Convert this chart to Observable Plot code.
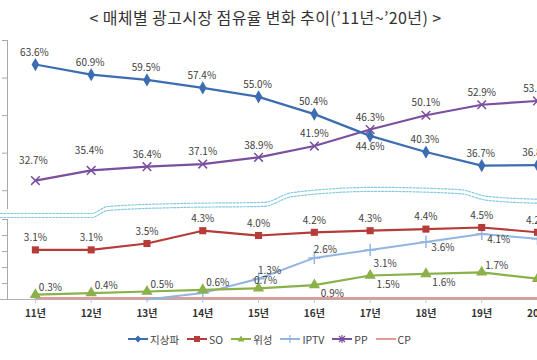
<!DOCTYPE html>
<html><head><meta charset="utf-8">
<script src="https://cdn.jsdelivr.net/npm/d3@7"></script>
<script src="https://cdn.jsdelivr.net/npm/@observablehq/plot@0.6"></script>
<style>
html,body{margin:0;padding:0;background:#fff;overflow:hidden;width:537px;height:360px;}
#title{height:34px;line-height:34px;text-align:center;font-size:16px;letter-spacing:0.4px;font-family:"Noto Sans CJK KR",sans-serif;color:#333;padding-right:6px;white-space:nowrap}
#chart{height:292px}
#chart svg{display:block}
#legend{display:flex;justify-content:center;align-items:center;height:26px;font-size:10.5px;font-family:"Noto Sans CJK KR",sans-serif;color:#444;padding-left:10px}
.item{display:flex;align-items:center;margin-right:8px}
.item svg{margin-right:2px}
</style></head><body>
<div id="title">&lt; 매체별 광고시장 점유율 변화 추이(’11년~’20년) &gt;</div>
<div id="chart"></div>
<div id="legend"></div>
<script>
// ---- data ----
const years = [11, 12, 13, 14, 15, 16, 17, 18, 19, 20];
const yearLabels = ["11년", "12년", "13년", "14년", "15년", "16년", "17년", "18년", "19년", "20년"];
const terrestrial = [63.6, 60.9, 59.5, 57.4, 55.0, 50.4, 44.6, 40.3, 36.7, 36.8];
const so = [3.1, 3.1, 3.5, 4.3, 4.0, 4.2, 4.3, 4.4, 4.5, 4.2];
const satellite = [0.3, 0.4, 0.5, 0.6, 0.7, 0.9, 1.5, 1.6, 1.7, 1.3];
const iptv = [null, null, 0.0, 0.4, 1.3, 2.6, 3.1, 3.6, 4.1, 3.8];
const pp = [32.7, 35.4, 36.4, 37.1, 38.9, 41.9, 46.3, 50.1, 52.9, 53.9];
const cp = [0.1, 0.1, 0.1, 0.1, 0.1, 0.1, 0.1, 0.1, 0.1, 0.1];
const seriesNames = ["지상파", "SO", "위성", "IPTV", "PP", "CP"];
const seriesColors = ["#3c6db0", "#b53c38", "#8ab14a", "#93b5e1", "#7a4f9f", "#e59a9a"];
// axis-break wave (year, value on the broken y scale)
const breakWaveX = [10.37, 12.0, 12.3, 13.6, 15.1, 15.6, 17.1, 18.6, 19.1, 20.1];
const breakWaveY = [17, 17, 25.8, 26.6, 26.9, 29.5, 30.9, 30.3, 28.5, 27.7];
const upperTicks = [30, 40, 50, 60, 70];
const lowerTicks = [0, 1, 2, 3, 4, 5];
const breakFrom = 5, breakTo = 25;

// broken-axis transform: lower panel 0–5, short gap, upper panel 25–70
const LOW = 16, GAP = 0.5, HIGH = 3.756;
const broken = v => v <= breakFrom ? v * LOW
  : v <= breakTo ? breakFrom * LOW + (v - breakFrom) * GAP
  : breakFrom * LOW + (breakTo - breakFrom) * GAP + (v - breakTo) * HIGH;

const FONT = "'Noto Sans CJK KR', sans-serif";
const rows = (vals, name) => years.map((y, i) => ({year: y, value: vals[i], series: name})).filter(d => d.value != null);
const T = rows(terrestrial, "지상파"), S = rows(so, "SO"), W = rows(satellite, "위성"),
      I = rows(iptv, "IPTV"), P = rows(pp, "PP"), C = rows(cp, "CP");
const wave = breakWaveX.map((x, i) => ({x, y: breakWaveY[i]}));
const fmt = d => d.value.toFixed(1) + "%";
const lab = (data, f, dx, dy) => Plot.text(data.filter(f), {x: "year", y: "value", text: fmt, dx, dy, fill: "#404040", fontSize: 10, fontFamily: FONT});
const all = () => true;
const axisX = 10.5;
const grey = "#a8a8a8";

const chart = Plot.plot({
  width: 537, height: 292,
  marginLeft: 7, marginRight: 0, marginTop: 0, marginBottom: 0,
  x: {domain: [axisX, 20], axis: null},
  y: {transform: broken, domain: [broken(0), broken(70)], range: [265, 6], axis: null},
  style: {background: "#fff", overflow: "visible"},
  marks: [
    Plot.line(wave, {x: "x", y: "y", curve: "monotone-x", stroke: "#86cae0", strokeWidth: 1.2, strokeDasharray: "2,1.5"}),
    Plot.line(wave, {x: "x", y: "y", curve: "monotone-x", stroke: "#86cae0", strokeWidth: 1.2, strokeDasharray: "2,1.5", dy: 4}),
    Plot.ruleX([axisX], {y1: breakTo, y2: upperTicks[upperTicks.length - 1], stroke: grey}),
    Plot.ruleX([axisX], {y1: lowerTicks[0], y2: lowerTicks[lowerTicks.length - 1], stroke: grey}),
    Plot.ruleY([...lowerTicks, ...upperTicks], {x1: axisX, x2: axisX, insetLeft: -5, stroke: grey}),
    Plot.ruleY([0], {stroke: "#b0b0b0", insetLeft: -7}),
    Plot.ruleX(years, {x: d => d, y1: 0, y2: -0.25, stroke: "#b8c8dc"}),
    // lines
    Plot.line(C, {x: "year", y: "value", stroke: seriesColors[5], strokeWidth: 2}),
    Plot.line(I, {x: "year", y: "value", stroke: seriesColors[3], strokeWidth: 2}),
    Plot.line(W, {x: "year", y: "value", stroke: seriesColors[2], strokeWidth: 2.2}),
    Plot.line(S, {x: "year", y: "value", stroke: seriesColors[1], strokeWidth: 2.2}),
    Plot.line(P, {x: "year", y: "value", stroke: seriesColors[4], strokeWidth: 2.2}),
    Plot.line(T, {x: "year", y: "value", stroke: seriesColors[0], strokeWidth: 2.2}),
    // markers
    Plot.dot(I.filter(d => d.year >= 14), {x: "year", y: "value", symbol: "plus", r: 4, stroke: seriesColors[3], strokeWidth: 1.5}),
    Plot.dot(W, {x: "year", y: "value", symbol: "triangle", r: 4.2, fill: seriesColors[2]}),
    Plot.dot(S, {x: "year", y: "value", symbol: "square", r: 4, fill: seriesColors[1]}),
    Plot.dot(P, {x: "year", y: "value", symbol: "times", r: 4, stroke: seriesColors[4], strokeWidth: 1.5}),
    Plot.dot(T, {x: "year", y: "value", symbol: "diamond", r: 4, fill: seriesColors[0]}),
    // labels
    lab(T, d => d.year !== 17, -1, -12),
    lab(T, d => d.year === 17, 0, 11),
    lab(P, d => d.year <= 12, -2, -20),
    lab(P, d => d.year > 12, 0, -12),
    lab(S, all, 0, -12),
    lab(W, d => d.year < 15 || d.year > 18, 15, -7),
    lab(W, d => d.year === 15, 7, -8),
    lab(W, d => d.year >= 16 && d.year <= 18, 18, 9),
    lab(I, d => d.year === 15 || d.year === 16, 11, -8),
    lab(I, d => d.year === 17, 15, 14),
    lab(I, d => d.year >= 18, 17, 6),
    // x labels
    Plot.text(years, {x: d => d, y: 0, dy: 14, text: (d, i) => yearLabels[i], fill: "#333", fontSize: 10, fontWeight: "bold", fontFamily: FONT})
  ]
});
document.getElementById("chart").append(chart);

// legend
const legend = document.getElementById("legend");
const markerSvg = (name, c) => {
  const s = {
    "지상파": `<path d="M10 1.5 L13.5 5 L10 8.5 L6.5 5Z" fill="${c}"/>`,
    "SO": `<rect x="7" y="2" width="6" height="6" fill="${c}"/>`,
    "위성": `<path d="M10 1.5 L13.5 7.5 L6.5 7.5Z" fill="${c}"/>`,
    "IPTV": `<path d="M10 1 V9" stroke="${c}" stroke-width="1.2"/>`,
    "PP": `<path d="M7 2 L13 8 M13 2 L7 8 M10 1 V9" stroke="${c}" stroke-width="1.2"/>`,
    "CP": ``
  }[name];
  return `<svg width="20" height="10"><line x1="0" y1="5" x2="20" y2="5" stroke="${c}" stroke-width="2"/>${s}</svg>`;
};
seriesNames.forEach((n, i) => {
  const el = document.createElement("div");
  el.className = "item";
  el.innerHTML = markerSvg(n, seriesColors[i]) + `<span>${n}</span>`;
  legend.append(el);
});
</script>
</body></html>
